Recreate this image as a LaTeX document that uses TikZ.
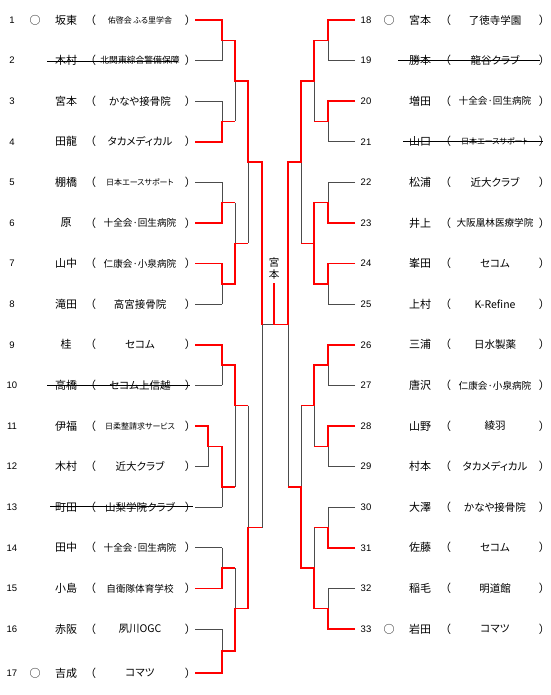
\documentclass[tikz,border=0pt]{standalone}
\usepackage{fontspec}
\setmainfont{Noto Sans CJK JP}[RawFeature=+palt]
\newfontfamily\numfont{Liberation Sans}
\tikzset{
  num/.style={font=\numfont\fontsize{9.5}{10}\selectfont, inner sep=0pt},
  nm/.style={font=\fontsize{11}{12}\selectfont, inner sep=0pt},
  tmb/.style={font=\fontsize{10.5}{12}\selectfont, inner sep=0pt},
  tmm/.style={font=\fontsize{9.6}{11}\selectfont, inner sep=0pt},
  tms/.style={font=\fontsize{8}{9}\selectfont, inner sep=0pt},
  tmx/.style={font=\fontsize{8.8}{9}\selectfont, inner sep=0pt},
  rl/.style={draw=red, line width=1.5pt},
  gl/.style={draw=black!70, line width=0.8pt},
  strike/.style={draw=black, line width=0.7pt},
}
\newcommand\LE[6]{%
  \node[num] (n#1) at (12,#2) {#1};
  \node[nm] (m#1) at (66,#2) {#3};
  \node[nm] (p#1) at (93,#2) {（};
  \node[#5] (t#1) at (140,#2) {#4};
  \node[nm] (q#1) at (188,#2) {）};
  \coordinate (e#1) at (195,#2);
}
\newcommand\RE[6]{%
  \node[num] (n#1) at (366,#2) {#1};
  \node[nm] (m#1) at (420,#2) {#3};
  \node[nm] (p#1) at (448,#2) {（};
  \node[#5] (t#1) at (495,#2) {#4};
  \node[nm] (q#1) at (542,#2) {）};
  \coordinate (e#1) at (355,#2);
}
\begin{document}
\begin{tikzpicture}[x=1pt,y=-1pt]
\useasboundingbox[fill=white] (0,0) rectangle (550,695);
% left entries
\LE{1}{20}{坂東}{佑啓会 ふる里学舎}{tms}{}
\LE{2}{60.6}{木村}{北関東綜合警備保障}{tmx}{}
\LE{3}{101.2}{宮本}{かなや接骨院}{tmb}{}
\LE{4}{141.8}{田龍}{タカメディカル}{tmb}{}
\LE{5}{182.4}{棚橋}{日本エースサポート}{tms}{}
\LE{6}{223}{原}{十全会·回生病院}{tmm}{}
\LE{7}{263.6}{山中}{仁康会·小泉病院}{tmm}{}
\LE{8}{304.2}{滝田}{高宮接骨院}{tmb}{}
\LE{9}{344.8}{桂}{セコム}{tmb}{}
\LE{10}{385.4}{高橋}{セコム上信越}{tmb}{}
\LE{11}{426}{伊福}{日柔整請求サービス}{tms}{}
\LE{12}{466.6}{木村}{近大クラブ}{tmb}{}
\LE{13}{507.2}{町田}{山梨学院クラブ}{tmb}{}
\LE{14}{547.8}{田中}{十全会·回生病院}{tmm}{}
\LE{15}{588.4}{小島}{自衛隊体育学校}{tmm}{}
\LE{16}{629}{赤阪}{夙川OGC}{tmb}{}
\LE{17}{673}{吉成}{コマツ}{tmb}{}
\node[nm] (c1) at (35,20) {○};
\node[nm] (c17) at (35,673) {○};
% right entries
\RE{18}{20}{宮本}{了徳寺学園}{tmb}{}
\RE{19}{60.6}{勝本}{龍谷クラブ}{tmb}{}
\RE{20}{101.2}{増田}{十全会·回生病院}{tmm}{}
\RE{21}{141.8}{山口}{日本エースサポート}{tms}{}
\RE{22}{182.4}{松浦}{近大クラブ}{tmb}{}
\RE{23}{223}{井上}{大阪凰林医療学院}{tmm}{}
\RE{24}{263.6}{峯田}{セコム}{tmb}{}
\RE{25}{304.2}{上村}{K-Refine}{tmb}{}
\RE{26}{344.8}{三浦}{日水製薬}{tmb}{}
\RE{27}{385.4}{唐沢}{仁康会·小泉病院}{tmm}{}
\RE{28}{426}{山野}{綾羽}{tmb}{}
\RE{29}{466.6}{村本}{タカメディカル}{tmb}{}
\RE{30}{507.2}{大澤}{かなや接骨院}{tmb}{}
\RE{31}{547.8}{佐藤}{セコム}{tmb}{}
\RE{32}{588.4}{稲毛}{明道館}{tmb}{}
\RE{33}{629}{岩田}{コマツ}{tmb}{}
\node[nm] (c18) at (389,20) {○};
\node[nm] (c33) at (389,629) {○};
% champion label
\node[font=\fontsize{10.5}{12}\selectfont, inner sep=0pt, align=center] (champ) at (274,269) {宮\\本};
% strike-through
\draw[strike] (47,61) -- (178,61);
\draw[strike] (47,385.4) -- (190,385.4);
\draw[strike] (50,506) -- (193,506);
\draw[strike] (398,60.6) -- (540,60.6);
\draw[strike] (403,141.8) -- (543,141.8);
% ---- gray lines left
\foreach \n in {2,3,5,8,10,13,14,16} \draw[gl] (e\n) -- ++(27,0);
\draw[gl] (e12) -- ++(13,0);
\draw[gl] (222,40.3)--(222,60.6) (222,101.2)--(222,121.5) (222,182.4)--(222,202.7)
  (222,283.9)--(222,304.2) (222,365.1)--(222,385.4) (208,446.3)--(208,466.6)
  (222,486.9)--(222,507.2) (222,547.8)--(222,568.1) (222,629)--(222,651);
\draw[gl] (235,80.9)--(235,121.5) (235,202.7)--(235,243.3) (235,405.7)--(235,486.9) (235,568.1)--(235,608.7);
\draw[gl] (248,162.1)--(248,243.3) (248,405.7)--(248,527.5);
\draw[gl] (262,324.5)--(262,527.5) (262,324.5)--(274,324.5);
% ---- gray lines right
\foreach \n in {19,21,22,25,27,29,30,32} \draw[gl] (e\n) -- ++(-27,0);
\draw[gl] (328,40.3)--(328,60.6) (328,121.5)--(328,141.8) (328,182.4)--(328,202.7)
  (328,283.9)--(328,304.2) (328,365.1)--(328,385.4) (328,446.3)--(328,466.6)
  (328,507.2)--(328,527.5) (328,588.4)--(328,608.7);
\draw[gl] (314,80.9)--(314,121.5) (314,405.7)--(314,446.3) (314,527.5)--(314,568.1);
\draw[gl] (301,162.1)--(301,243.3) (301,405.7)--(301,486.9);
\draw[gl] (288,324.5)--(288,486.9);
% ---- red lines left
\draw[rl] (e1) -| (222,40.3) -| (235,80.9) -| (248,162.1) -| (262,324.5);
\draw[rl] (e4) -| (222,121.5) -- (235,121.5);
\draw[rl] (e6) -| (222,202.7) -- (235,202.7);
\draw[rl] (e7) -| (222,283.9) -| (235,243.3) -- (248,243.3);
\draw[rl] (e9) -| (222,365.1) -| (235,405.7) -- (248,405.7);
\draw[rl] (e11) -| (208,446.3) -| (222,486.9) -- (235,486.9);
\draw[rl] (e15) -| (222,568.1) -- (235,568.1);
\draw[rl] (e17) -| (222,651) -| (235,608.7) -| (248,527.5) -- (262,527.5);
% ---- red lines right
\draw[rl] (e18) -| (328,40.3) -| (314,80.9) -| (301,162.1) -| (288,324.5) -| (274,283);
\draw[rl] (e20) -| (328,121.5) -- (314,121.5);
\draw[rl] (e23) -| (328,202.7) -| (314,243.3) -- (301,243.3);
\draw[rl] (e24) -| (328,283.9) -| (314,243.3);
\draw[rl] (e26) -| (328,365.1) -| (314,405.7) -- (301,405.7);
\draw[rl] (e28) -| (328,446.3) -- (314,446.3);
\draw[rl] (e31) -| (328,527.5) -- (314,527.5);
\draw[rl] (e33) -| (328,608.7) -| (314,568.1) -| (301,486.9) -- (288,486.9);
\end{tikzpicture}
\end{document}
